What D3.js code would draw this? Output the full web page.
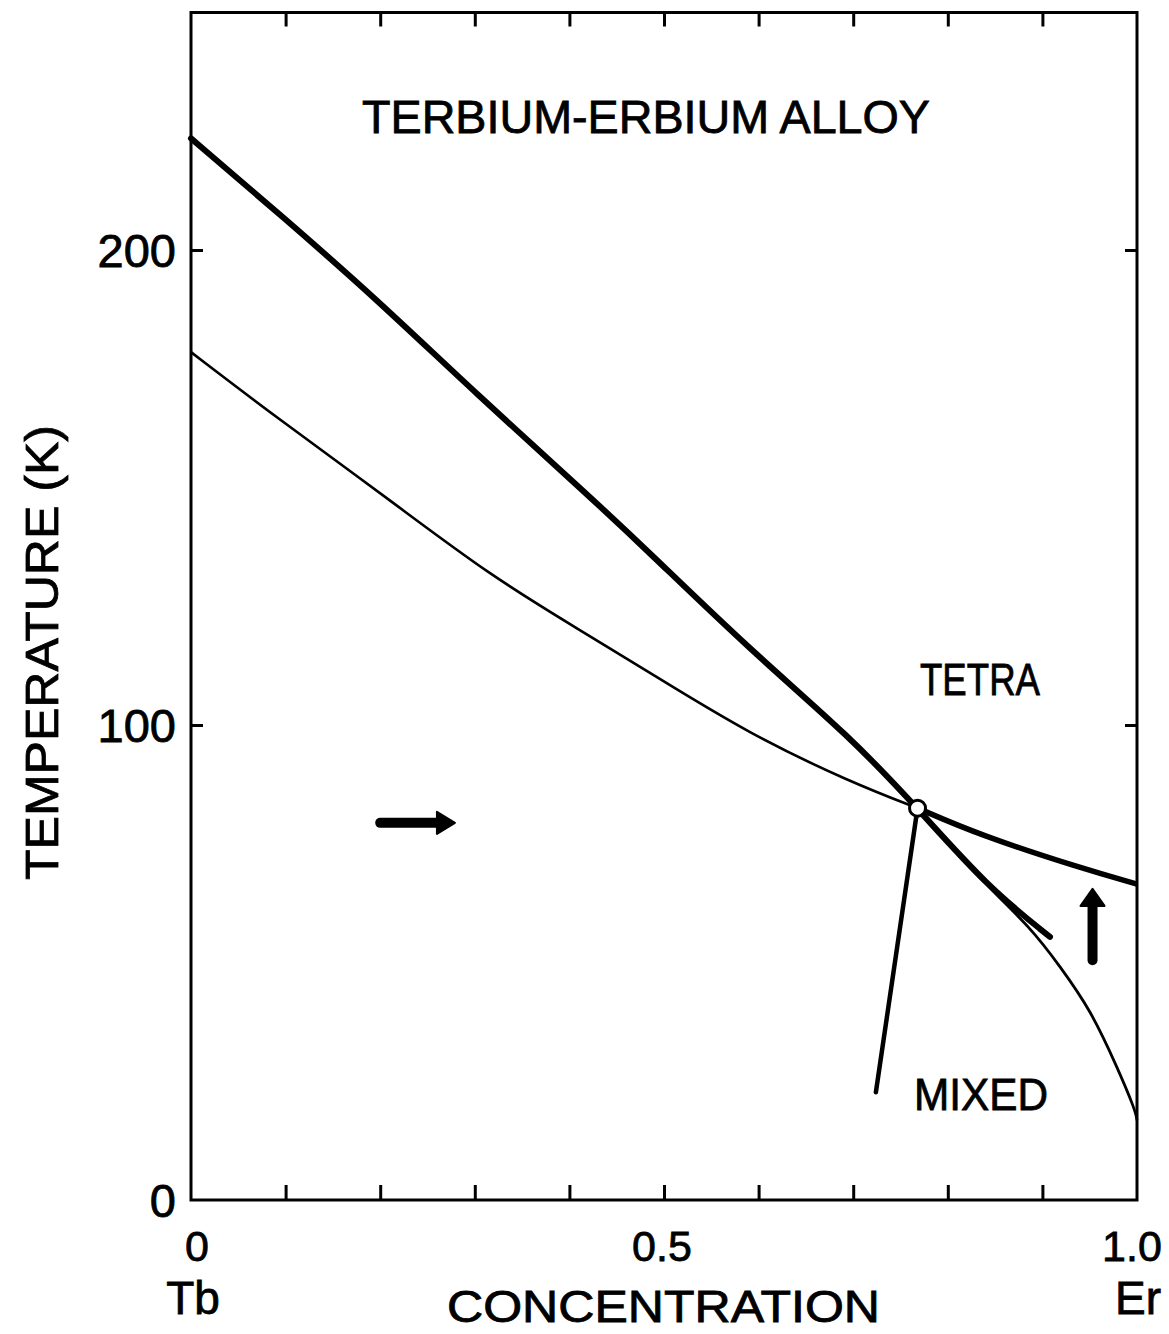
<!DOCTYPE html>
<html>
<head>
<meta charset="UTF-8">
<script src="https://d3js.org/d3.v7.min.js"></script>
<style>
  body { margin: 0; background: #fff; }
  text { font-family: "Liberation Sans", Arial, sans-serif; fill: #000; stroke: #000; stroke-width: 0.8px; }
  .axis path, .axis line { stroke: #000; stroke-width: 3px; }
</style>
</head>
<body>
<svg width="1169" height="1334"></svg>
<script>
// tick positions and labels
var xMinorTicks = [0.1, 0.2, 0.3, 0.4, 0.5, 0.6, 0.7, 0.8, 0.9];
var xLabelTicks = [0, 0.5, 1.0];
var xLabelText = ["0", "0.5", "1.0"];
var yTicks = [100, 200];
var yLabelTicks = [0, 100, 200];

// upper (thick) transition line
var upperX = [0, 0.097, 0.197, 0.30, 0.422, 0.482, 0.591, 0.697, 0.768, 0.842, 0.908];
var upperT = [223.5, 207, 189.5, 170, 148, 136.8, 115.8, 97.5, 82.5, 65.9, 55.4];

// lower (thin) line up to the multicritical point
var lowerX = [0, 0.094, 0.21, 0.316, 0.411, 0.485, 0.591, 0.697, 0.768];
var lowerT = [178.5, 164.2, 147.4, 131.5, 120.0, 111, 98, 88, 82.5];

// thick continuation to the Er side
var rightX = [0.768, 0.834, 0.94, 1.0];
var rightT = [82.5, 76.8, 69.9, 66.5];

// thin curve dropping to Er
var dropX = [0.768, 0.842, 0.887, 0.919, 0.951, 0.979, 0.998, 1.0];
var dropT = [82.5, 65.9, 57.5, 49.1, 40, 28, 19, 16.8];

// steep line going down from the point
var steepX = [0.768, 0.724];
var steepT = [82.5, 22.7];

var pointX = 0.768, pointT = 82.5;
var arrowRight = { x0: 0.200, x1: 0.279, t: 79.4 };
var arrowUp = { x: 0.953, t0: 50.5, t1: 65.5 };

var svg = d3.select("svg");
var marginLeft = 191, marginTop = 12.5, width = 946, height = 1187.5;

var x = d3.scaleLinear().domain([0, 1]).range([0, width]);
var y = d3.scaleLinear().domain([0, 250]).range([height, 0]);

var g = svg.append("g").attr("transform", "translate(" + marginLeft + "," + marginTop + ")");

// frame
g.append("rect")
  .attr("x", 0).attr("y", 0).attr("width", width).attr("height", height)
  .attr("fill", "none").attr("stroke", "#000").attr("stroke-width", 3);

// inward ticks
g.append("g").attr("class", "axis")
  .attr("transform", "translate(0," + height + ")")
  .call(d3.axisBottom(x).tickValues(xMinorTicks).tickSize(-15).tickFormat(""))
  .select(".domain").remove();
g.append("g").attr("class", "axis")
  .call(d3.axisTop(x).tickValues(xMinorTicks).tickSize(-14).tickFormat(""))
  .select(".domain").remove();
g.append("g").attr("class", "axis")
  .call(d3.axisLeft(y).tickValues(yTicks).tickSize(-12).tickFormat(""))
  .select(".domain").remove();
g.append("g").attr("class", "axis")
  .attr("transform", "translate(" + width + ",0)")
  .call(d3.axisRight(y).tickValues(yTicks).tickSize(-12).tickFormat(""))
  .select(".domain").remove();

// tick labels
g.selectAll(".ylab").data(yLabelTicks).enter().append("text")
  .attr("x", -15).attr("y", function(d) { return y(d); })
  .attr("dy", "0.36em")
  .attr("text-anchor", "end")
  .attr("font-size", "47px")
  .text(function(d) { return d; });

g.selectAll(".xlab").data(xLabelTicks).enter().append("text")
  .attr("x", function(d, i) { return x(d) + [6, -2, -5][i]; })
  .attr("y", height + 61)
  .attr("text-anchor", "middle")
  .attr("font-size", "43px")
  .text(function(d, i) { return xLabelText[i]; });

svg.append("text").attr("x", 193).attr("y", 1314)
  .attr("text-anchor", "middle").attr("font-size", "46px").text("Tb");
svg.append("text").attr("x", 1138).attr("y", 1314)
  .attr("text-anchor", "middle").attr("font-size", "46px").text("Er");
svg.append("text").attr("x", 447).attr("y", 1322)
  .attr("font-size", "44px").attr("textLength", 433)
  .attr("lengthAdjust", "spacingAndGlyphs").text("CONCENTRATION");
svg.append("text")
  .attr("transform", "translate(58,880) rotate(-90)")
  .attr("font-size", "47px").attr("textLength", 455)
  .attr("lengthAdjust", "spacingAndGlyphs").text("TEMPERATURE (K)");

// curves
function series(xs, ts) { return xs.map(function(d, i) { return [d, ts[i]]; }); }
var smooth = d3.line()
  .x(function(d) { return x(d[0]); })
  .y(function(d) { return y(d[1]); })
  .curve(d3.curveBasis);
var straight = d3.line()
  .x(function(d) { return x(d[0]); })
  .y(function(d) { return y(d[1]); });

g.append("path").attr("d", smooth(series(dropX, dropT)))
  .attr("fill", "none").attr("stroke", "#000").attr("stroke-width", 2.8);
g.append("path").attr("d", smooth(series(lowerX, lowerT)))
  .attr("fill", "none").attr("stroke", "#000").attr("stroke-width", 2.6);
g.append("path").attr("d", smooth(series(upperX, upperT)))
  .attr("fill", "none").attr("stroke", "#000").attr("stroke-width", 6)
  .attr("stroke-linecap", "round");
g.append("path").attr("d", smooth(series(rightX, rightT)))
  .attr("fill", "none").attr("stroke", "#000").attr("stroke-width", 5.5);
g.append("path").attr("d", straight(series(steepX, steepT)))
  .attr("fill", "none").attr("stroke", "#000").attr("stroke-width", 4.5)
  .attr("stroke-linecap", "round");

g.append("circle")
  .attr("cx", x(pointX)).attr("cy", y(pointT)).attr("r", 8)
  .attr("fill", "#fff").attr("stroke", "#000").attr("stroke-width", 3);

// arrows
var ar = arrowRight, ay = y(ar.t);
g.append("line")
  .attr("x1", x(ar.x0)).attr("x2", x(ar.x1) - 14).attr("y1", ay).attr("y2", ay)
  .attr("stroke", "#000").attr("stroke-width", 10).attr("stroke-linecap", "round");
g.append("path")
  .attr("d", "M" + (x(ar.x1) - 18) + "," + (ay - 11) + "L" + x(ar.x1) + "," + ay +
             "L" + (x(ar.x1) - 18) + "," + (ay + 11) + "Z")
  .attr("fill", "#000").attr("stroke", "#000").attr("stroke-width", 2).attr("stroke-linejoin", "round");

var au = arrowUp, ax = x(au.x);
g.append("line")
  .attr("x1", ax).attr("x2", ax).attr("y1", y(au.t0)).attr("y2", y(au.t1) + 14)
  .attr("stroke", "#000").attr("stroke-width", 10).attr("stroke-linecap", "round");
g.append("path")
  .attr("d", "M" + (ax - 12) + "," + (y(au.t1) + 17) + "L" + ax + "," + y(au.t1) +
             "L" + (ax + 12) + "," + (y(au.t1) + 17) + "Z")
  .attr("fill", "#000").attr("stroke", "#000").attr("stroke-width", 2).attr("stroke-linejoin", "round");

// annotations
svg.append("text").attr("x", 362).attr("y", 133)
  .attr("font-size", "46px").attr("textLength", 568)
  .attr("lengthAdjust", "spacingAndGlyphs").text("TERBIUM-ERBIUM ALLOY");
svg.append("text").attr("x", 920).attr("y", 695)
  .attr("font-size", "45px").attr("textLength", 120)
  .attr("lengthAdjust", "spacingAndGlyphs").text("TETRA");
svg.append("text").attr("x", 914).attr("y", 1110)
  .attr("font-size", "45px").attr("textLength", 134)
  .attr("lengthAdjust", "spacingAndGlyphs").text("MIXED");
</script>
</body>
</html>
